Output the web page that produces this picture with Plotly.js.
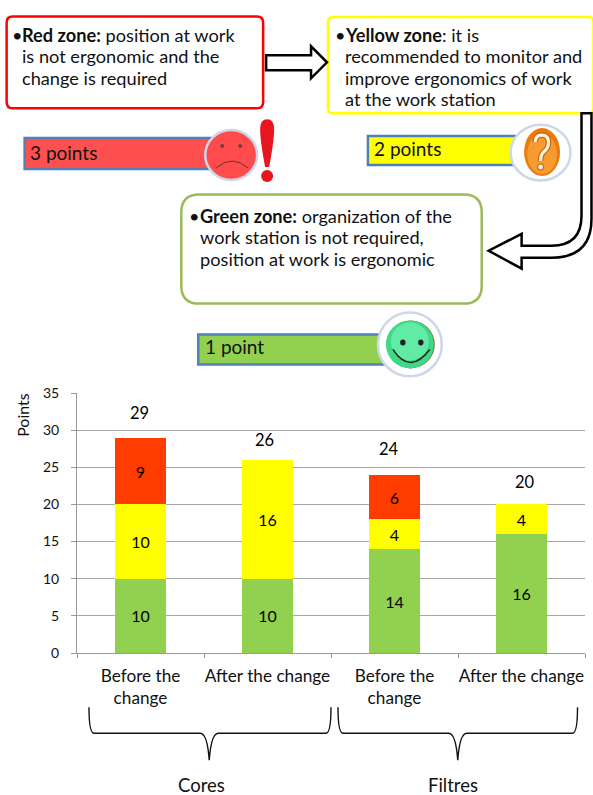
<!DOCTYPE html>
<html><head><meta charset="utf-8">
<script src="https://cdn.plot.ly/plotly-3.0.1.min.js"></script>
<style>html,body{margin:0;padding:0;background:#fff}#c{width:593px;height:795px}</style></head>
<body><div id="c"></div>
<script>
const categories = ['c1','c2','f1','f2'];
const categoryLabels = ['Before the<br>change','After the change','Before the<br>change','After the change'];
const greenValues = [10,10,14,16];
const yellowValues = [10,16,4,4];
const redValues = [9,null,6,null];
const groupNames = ['Cores','Filtres'];
const totals = [29,26,24,20];
const totalOffsets = [25,20,26,22];
const totalShifts = [-1,-3,-5.5,3];

const W=593,H=795,L=76.5,R=585.5,T=392.7,B=653.5;
const fx=p=>(p-L)/(R-L), fy=p=>(B-p)/(B-T);
const FONT='Lato, Carlito, sans-serif';
function pathStr(s){
  return s.replace(/(-?[\d.]+),(-?[\d.]+)/g,(m,a,b)=>fx(+a).toFixed(5)+','+fy(+b).toFixed(5));
}
function P(d,fill,color,width){return {type:'path',xref:'paper',yref:'paper',path:pathStr(d),fillcolor:fill||'rgba(0,0,0,0)',line:{color:color||'rgba(0,0,0,0)',width:width||0},layer:'above'};}
function E(cx,cy,rx,ry,fill,color,width){return {type:'circle',xref:'paper',yref:'paper',x0:fx(cx-rx),x1:fx(cx+rx),y0:fy(cy+ry),y1:fy(cy-ry),fillcolor:fill,line:{color:color||'rgba(0,0,0,0)',width:width||0},layer:'above'};}
function RR(x0,y0,x1,y1,r,color,w){return P(`M${x0+r},${y0} L${x1-r},${y0} Q${x1},${y0} ${x1},${y0+r} L${x1},${y1-r} Q${x1},${y1} ${x1-r},${y1} L${x0+r},${y1} Q${x0},${y1} ${x0},${y1-r} L${x0},${y0+r} Q${x0},${y0} ${x0+r},${y0} Z`,'#fff',color,w);}
function Rc(x0,y0,x1,y1,fill){return P(`M${x0},${y0} L${x1},${y0} L${x1},${y1} L${x0},${y1} Z`,fill,'#4F81BD',2.5);}
function brace(l,r,c){return P(`M${l},708 Q${l},734 ${l+5},734 L${c-9},734 Q${c-2},734 ${c},761 Q${c+2},734 ${c+9},734 L${r-5},734 Q${r},734 ${r},708`,null,'#111',1.4);}
const qMark='M535.5,141 Q536,134 542,134 Q549,134 549,141 Q549,147 544.5,150.5 Q541,153.5 541,160';

const shapes=[
 RR(6,15,263,107,6,'#FF0000',2.5),
 RR(328,15.5,594,112,5,'#FFFF00',2.5),
 RR(181,193.5,482,303,18,'#9BBB59',2.5),
 P('M266,54 L311,54 L311,45 L327,61 L311,77 L311,69 L266,69 Z','#fff','#000',2.5),
 P('M582,112 L592,112 L592,218 Q592,257 552,257 L522,257 L522,268 L489,250 L522,233 L522,245 L552,245 Q582,245 582,215 Z','#fff','#000',2.5),
 Rc(24,137,212,168,'#FF5050'),
 Rc(368,135,520,164,'#FFFF00'),
 Rc(198,334,385,364,'#92D050'),
 E(231,154,26,25,'#FF4B4B','#CDD7E8',2.5),
 E(222,145,2,2,'#7a3a3a'),E(240,145,2,2,'#7a3a3a'),
 P('M216,167 Q232,153 248,167',null,'#6a3030',1),
 P('M260,128 Q260,118 267,118 Q274,118 274,128 Q274,140 269,166 L265,166 Q260,140 260,128 Z','#E8141E'),
 E(267,175,6,6,'#E8141E'),
 E(541,151.5,30,28,'#fff','#CDD7E8',2.5),
 E(542.5,151,18,24,'#EC7A0C'),
 E(542.5,153,15,20,'#F79A30'),
 P(qMark,null,'#C8650A',5.5),
 E(541,166,3.4,3.4,'#C8650A'),
 P(qMark,null,'#FFF6E8',3.2),
 E(541,166,2.4,2.4,'#FFF6E8'),
 E(410,344,32,32,'#fff','#CDD7E8',2.5),
 E(411,344,24,24,'#7F7250'),
 E(410,344,24,24,'#3DD985'),
 E(410,341,19,19,'#62EBA5'),
 E(403,342,2.7,3,'#222'),E(421,342,2.7,3,'#222'),
 P('M393,349 Q410,375 430,349',null,'#222',1.5),
 brace(88.5,331,209),brace(338,578,458)
];

const textLines=[
 ['•',10,34,18.2],['<b>Red zone:</b> position at work',20.5,34,18.2],['is not ergonomic and the',20.5,55,18.2],['change is required',20.5,77,18.2],
 ['•',334,34,18.2],['<b>Yellow zone</b>: it is',344,34,18.2],['recommended to monitor and',344,55,18.2],['improve ergonomics of work',344,77,18.2],['at the work station',344,98,18.2],
 ['•',188,215,18.2],['<b>Green zone:</b> organization of the',199,215,18.2],['work station is not required,',199,236,18.2],['position at work is ergonomic',199,258,18.2],
 ['3 points',28.5,151.5,19],['2 points',373.5,147.5,19],['1 point',203.5,346.5,19]
];
const anns=textLines.map(t=>({xref:'paper',yref:'paper',x:fx(t[1]),y:fy(t[2]),text:t[0],showarrow:false,xanchor:'left',yanchor:'middle',borderpad:0,font:{family:FONT,size:t[3],color:'#111'}}));
totals.forEach((v,i)=>anns.push({x:categories[i],y:v,yref:'y',xref:'x',text:String(v),showarrow:false,yshift:totalOffsets[i],xshift:totalShifts[i],yanchor:'middle',font:{family:FONT,size:16.5,color:'#000'}}));
anns.push({xref:'paper',yref:'paper',x:fx(22),y:fy(415),text:'Points',textangle:-90,showarrow:false,xanchor:'center',yanchor:'middle',font:{family:FONT,size:16,color:'#111'}});
[[201,groupNames[0]],[453,groupNames[1]]].forEach(g=>anns.push({xref:'paper',yref:'paper',x:fx(g[0]),y:fy(786),text:g[1],showarrow:false,xanchor:'center',yanchor:'middle',font:{family:FONT,size:18.5,color:'#111'}}));

const bar=(y,c)=>({type:'bar',x:categories,y:y,marker:{color:c,line:{width:0}},text:y.map(v=>v==null?'':String(v)),textposition:'inside',insidetextanchor:'middle',textangle:0,constraintext:'none',textfont:{family:FONT,size:16,color:'#000'},hoverinfo:'skip'});
Plotly.newPlot('c',[bar(greenValues,'#92D050'),bar(yellowValues,'#FFFF00'),bar(redValues,'#FF3C00')],{
 width:W,height:H,margin:{l:L,r:W-R,t:T,b:H-B,pad:0},barmode:'stack',bargap:0.6,showlegend:false,
 paper_bgcolor:'#fff',plot_bgcolor:'#fff',shapes:shapes,annotations:anns,
 xaxis:{type:'category',categoryorder:'array',categoryarray:categories,tickmode:'array',tickvals:categories,ticktext:categoryLabels,tickson:'boundaries',ticks:'outside',ticklen:4,tickcolor:'#999999',showline:true,linecolor:'#999999',linewidth:1,showgrid:false,zeroline:false,tickangle:0,ticklabelstandoff:7,tickfont:{family:FONT,size:17.2,color:'#111'}},
 yaxis:{range:[0,35],tickvals:[0,5,10,15,20,25,30,35],ticks:'outside',ticklen:5,tickcolor:'#999999',showline:true,linecolor:'#999999',linewidth:1,showgrid:true,gridcolor:'#A6A6A6',gridwidth:1.2,zeroline:false,ticklabelstandoff:9,tickfont:{family:FONT,size:14,color:'#111'}}
},{displayModeBar:false,staticPlot:true});
</script></body></html>
